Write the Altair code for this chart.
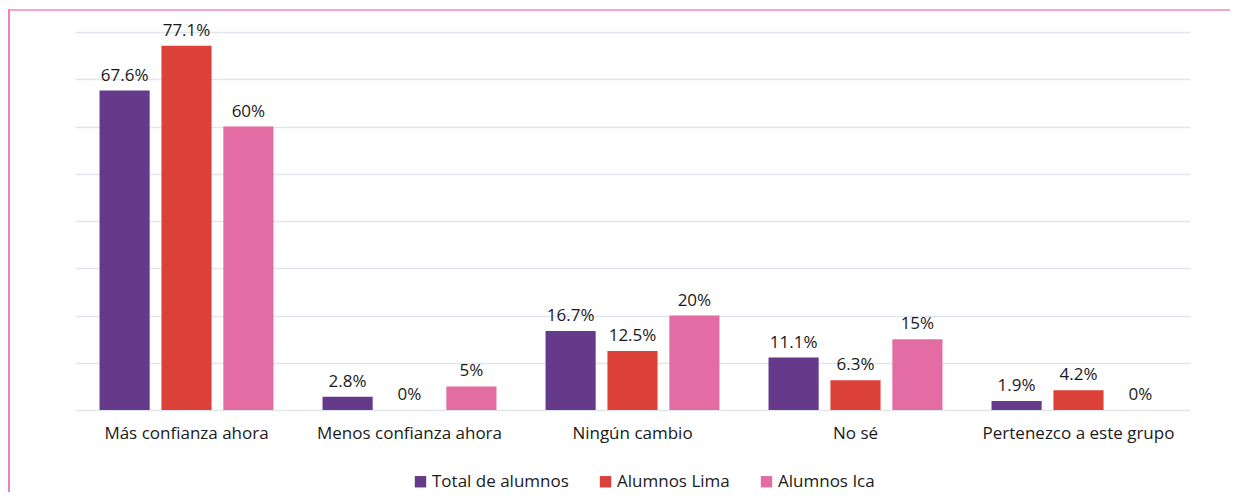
import altair as alt
import pandas as pd

categories = ["Más confianza ahora", "Menos confianza ahora", "Ningún cambio", "No sé", "Pertenezco a este grupo"]
series = ["Total de alumnos", "Alumnos Lima", "Alumnos Ica"]
total = [67.6, 2.8, 16.7, 11.1, 1.9]
lima = [77.1, 0, 12.5, 6.3, 4.2]
ica = [60, 5, 20, 15, 0]
colors = ["#653a8b", "#dc4139", "#e46ca4"]

rows = []
for s, vals in zip(series, [total, lima, ica]):
    for c, v in zip(categories, vals):
        rows.append({"cat": c, "serie": s, "value": v})
df = pd.DataFrame(rows)

FONT = "Open Sans"

base = alt.Chart(df).transform_calculate(
    label="format(datum.value, '.1~f') + '%'"
)

x = alt.X("cat:N", sort=categories, title=None,
          scale=alt.Scale(paddingInner=0.22, paddingOuter=0.11),
          axis=alt.Axis(labelAngle=0, ticks=False, domain=False, grid=False,
                        labelFontSize=17, labelFont=FONT, labelColor="#1a1a1a",
                        labelPadding=15, labelLimit=400))
xo = alt.XOffset("serie:N", sort=series, scale=alt.Scale(paddingInner=0.19))
y = alt.Y("value:Q", title=None,
          scale=alt.Scale(domain=[0, 80], nice=False),
          axis=alt.Axis(labels=False, ticks=False, domain=False, grid=True,
                        values=list(range(0, 81, 10)), gridColor="#e1e6ec",
                        gridWidth=1.5))

bars = base.mark_bar().encode(
    x=x, xOffset=xo, y=y,
    color=alt.Color("serie:N", sort=series,
                    scale=alt.Scale(domain=series, range=colors),
                    legend=alt.Legend(title=None, orient="none", direction="horizontal",
                                      legendX=337, legendY=441, symbolType="square",
                                      symbolSize=130, symbolStrokeWidth=0,
                                      labelFontSize=17, labelFont=FONT,
                                      labelColor="#1a1a1a", columnPadding=28,
                                      symbolOffset=0, labelOffset=3)),
)

texts = base.mark_text(baseline="alphabetic", dy=-10, fontSize=17, font=FONT,
                       color="#1a1a1a").encode(
    x=alt.X("cat:N", sort=categories), xOffset=alt.XOffset("serie:N", sort=series),
    y=alt.Y("value:Q"), text="label:N")

frame_data = alt.Data(values=[{"a": 1}])
frame_left = alt.Chart(frame_data).mark_rule(
    color="#ef5fa8", strokeWidth=1.6).encode(
    x=alt.value(-66), y=alt.value(-23), y2=alt.value(460))
frame_top = alt.Chart(frame_data).mark_rule(
    color="#f384bd", strokeWidth=1.6).encode(
    x=alt.value(-67), x2=alt.value(1155), y=alt.value(-22))

chart = alt.layer(bars, texts, frame_left, frame_top).properties(
    width=1115, height=378,
    padding={"left": 67, "top": 24, "right": 49, "bottom": 84},
    autosize=alt.AutoSizeParams(type="none"),
).configure(background="white").configure_view(strokeWidth=0, stroke="transparent")

chart.save("out.html", embed_options={"renderer": "svg", "actions": False})
